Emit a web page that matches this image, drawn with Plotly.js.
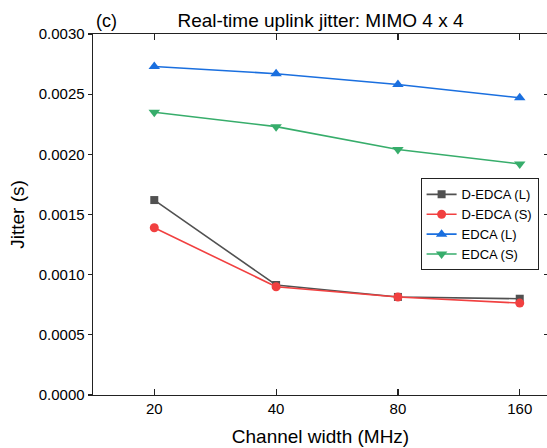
<!DOCTYPE html>
<html>
<head>
<meta charset="utf-8">
<script src="https://cdn.plot.ly/plotly-3.0.1.min.js"></script>
<style>
html,body{margin:0;padding:0;overflow:hidden;background:#fff;}
#chart{width:552px;height:448px;}
</style>
</head>
<body>
<div id="chart"></div>
<script>
var categories = ['20', '40', '80', '160'];
var dedcaL = [0.00162, 0.000914, 0.000815, 0.000800];
var dedcaS = [0.00139, 0.000900, 0.000814, 0.000764];
var edcaL = [0.00273, 0.00267, 0.00258, 0.00247];
var edcaS = [0.00235, 0.00223, 0.00204, 0.00192];
var seriesNames = ['D-EDCA (L)', 'D-EDCA (S)', 'EDCA (L)', 'EDCA (S)'];
var yTicks = [0, 0.0005, 0.0010, 0.0015, 0.0020, 0.0025, 0.0030];

var FONT = 'Liberation Sans, Arial, sans-serif';
var colors = ['#515151', '#F14040', '#1A6FDF', '#37AD6B'];
var symbols = ['square', 'circle', 'triangle-up', 'triangle-down'];
var sizes = [8, 9, 10, 10];
var data = [dedcaL, dedcaS, edcaL, edcaS];

var traces = data.map(function (vals, i) {
  return {
    x: categories, y: vals, name: seriesNames[i], type: 'scatter', mode: 'lines+markers',
    line: {color: colors[i], width: 1.6},
    marker: {color: colors[i], symbol: symbols[i], size: sizes[i]},
    xaxis: 'x', yaxis: 'y'
  };
});
// helper trace for the right-hand inner ticks
traces.push({x: [categories[0]], y: [null], yaxis: 'y2', xaxis: 'x', showlegend: false,
  hoverinfo: 'skip', mode: 'markers', marker: {opacity: 0}});

var yRange = [0, 0.0030];
var layout = {
  width: 552, height: 448,
  margin: {l: 92.7, r: 4, t: 34, b: 52.7},
  paper_bgcolor: '#fff', plot_bgcolor: '#fff',
  font: {family: FONT, color: '#000'},
  showlegend: true,
  title: {text: 'Real-time uplink jitter: MIMO 4 x 4', font: {family: FONT, size: 19, color: '#000'},
    x: 0.5, xref: 'paper', xanchor: 'center', y: 1 - 20.5/448, yref: 'container', yanchor: 'middle'},
  xaxis: {
    type: 'category', categoryorder: 'array', categoryarray: categories,
    range: [-0.503, 3.232],
    showline: true, linecolor: '#222', linewidth: 1.4, mirror: 'ticks',
    ticks: 'inside', ticklen: 6, tickwidth: 1.2, tickcolor: '#222',
    showgrid: false, zeroline: false, automargin: true,
    tickfont: {family: FONT, size: 15, color: '#000'},
    title: {text: 'Channel width (MHz)', font: {family: FONT, size: 19, color: '#000'}, standoff: 13}
  },
  yaxis: {
    range: yRange, tickvals: yTicks, tickformat: '.4f',
    showline: true, linecolor: '#222', linewidth: 1.4, mirror: true,
    ticks: 'outside', ticklen: 4, tickwidth: 1.2, tickcolor: '#222',
    showgrid: false, zeroline: false, automargin: true,
    tickfont: {family: FONT, size: 15, color: '#000'},
    title: {text: 'Jitter (s)', font: {family: FONT, size: 19, color: '#000'}, standoff: 9}
  },
  yaxis2: {
    range: yRange, tickvals: yTicks, overlaying: 'y', side: 'right',
    showticklabels: false, ticks: 'inside', ticklen: 4, tickwidth: 1.2, tickcolor: '#222',
    showline: false, showgrid: false, zeroline: false
  },
  legend: {
    x: 0.72, y: 0.6, xanchor: 'left', yanchor: 'top', xref: 'paper', yref: 'paper',
    bgcolor: '#fff', bordercolor: '#222', borderwidth: 1,
    font: {family: FONT, size: 13, color: '#000'},
    tracegroupgap: 0, itemwidth: 30
  },
  annotations: [{
    text: '(c)', xref: 'paper', yref: 'paper', x: 0, y: 1 + 13.5/361.3, xanchor: 'left', yanchor: 'middle',
    xshift: 1, showarrow: false, font: {family: FONT, size: 18, color: '#000'}
  }]
};

Plotly.newPlot('chart', traces, layout, {displayModeBar: false, staticPlot: true});
</script>
</body>
</html>
